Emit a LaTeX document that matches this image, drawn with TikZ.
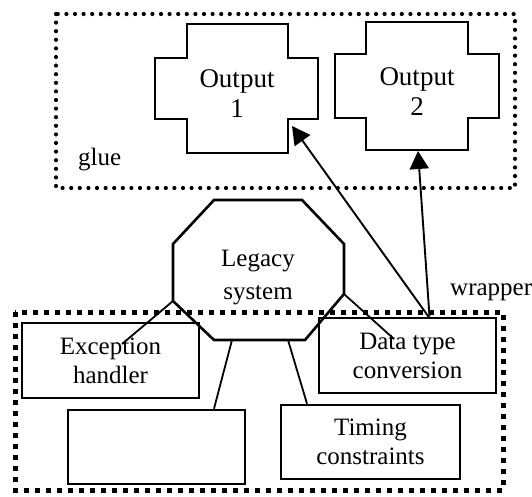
\documentclass[tikz,border=0pt]{standalone}
\usepackage{fontspec}
\setmainfont{Liberation Serif}
\usetikzlibrary{arrows.meta}
\begin{document}
\begin{tikzpicture}[x=1pt,y=-1pt,
  outline/.style={line width=2.6pt, line join=miter},
  gluebox/.style={line width=4.2pt, line cap=round, dash pattern=on 0pt off 8.6pt},
  wrapbox/.style={line width=5pt, dash pattern=on 5pt off 6pt},
  txt/.style={font=\fontsize{25}{29}\selectfont, align=center, inner sep=0pt},
  outtxt/.style={txt, font=\fontsize{27}{30}\selectfont},
  box/.style={outline, draw, rectangle, minimum width=177pt, minimum height=75pt, inner sep=0pt,
              font=\fontsize{25}{29}\selectfont, align=center},
  link/.style={line width=1.8pt},
  arrowlink/.style={line width=1.9pt, -{Triangle[length=18pt,width=19pt]}},
]
\useasboundingbox (0,0) rectangle (532,497);
\fill[white] (0,0) rectangle (532,497);

% glue region
\draw[gluebox] (56,14) rectangle (515,188);
\node[txt, anchor=base west] (glue) at (78,166) {glue};

% Output 1 (cross shape)
\draw[outline] (187,24) -- (288,24) -- (288,58) -- (318,58) -- (318,119) -- (288,119)
  -- (288,153) -- (187,153) -- (187,119) -- (155,119) -- (155,58) -- (187,58) -- cycle;
\node[outtxt] (out1) at (237,94) {Output\\1};
\coordinate (o1tip) at (292,126);

% Output 2 (cross shape)
\draw[outline] (366,22) -- (468,22) -- (468,54) -- (499,54) -- (499,118) -- (468,118)
  -- (468,150) -- (366,150) -- (366,118) -- (335,118) -- (335,54) -- (366,54) -- cycle;
\node[outtxt] (out2) at (417,92) {Output\\2};
\coordinate (o2tip) at (418,151);

% wrapper region
\draw[wrapbox] (15,312) rectangle (503,490);
\node[txt, anchor=base west] (wrap) at (450,295) {wrapper};

% Legacy system (octagon)
\coordinate (oc1) at (214,200);
\coordinate (oc2) at (302,200);
\coordinate (oc3) at (344,244);
\coordinate (oc4) at (344,294);
\coordinate (oc5) at (305,340);
\coordinate (oc6) at (214,340);
\coordinate (oc7) at (173,301);
\coordinate (oc8) at (173,244);
\draw[outline] (oc1) -- (oc2) -- (oc3) -- (oc4) -- (oc5) -- (oc6) -- (oc7) -- (oc8) -- cycle;
\node[txt, font=\fontsize{25}{33}\selectfont] (legacy) at (258,278) {Legacy\\system};
\coordinate (ob1) at (232,340);
\coordinate (ob2) at (288,340);

% wrapper boxes
\node[box] (exc) at (110.5,360.5) {Exception\\handler};
\node[box, minimum height=74pt] (empty) at (156.5,447) {};
\node[box, minimum width=179pt, minimum height=74pt] (timing) at (370.5,442) {Timing\\constraints};
\node[box] (data) at (407.5,355.5) {Data type\\conversion};

\coordinate (excEnd) at (122,344);
\coordinate (dataEnd) at (394,339);

% connectors
\draw[link] (oc7) -- (excEnd);
\draw[link] (oc4) -- (dataEnd);
\draw[link] (ob1) -- ([xshift=57.5pt]empty.north);
\draw[link] (ob2) -- ([xshift=-63.5pt]timing.north);

% arrows
\draw[arrowlink] ([xshift=21pt]data.north) -- (o1tip);
\draw[arrowlink] ([xshift=22pt]data.north) -- (o2tip);
\end{tikzpicture}
\end{document}
